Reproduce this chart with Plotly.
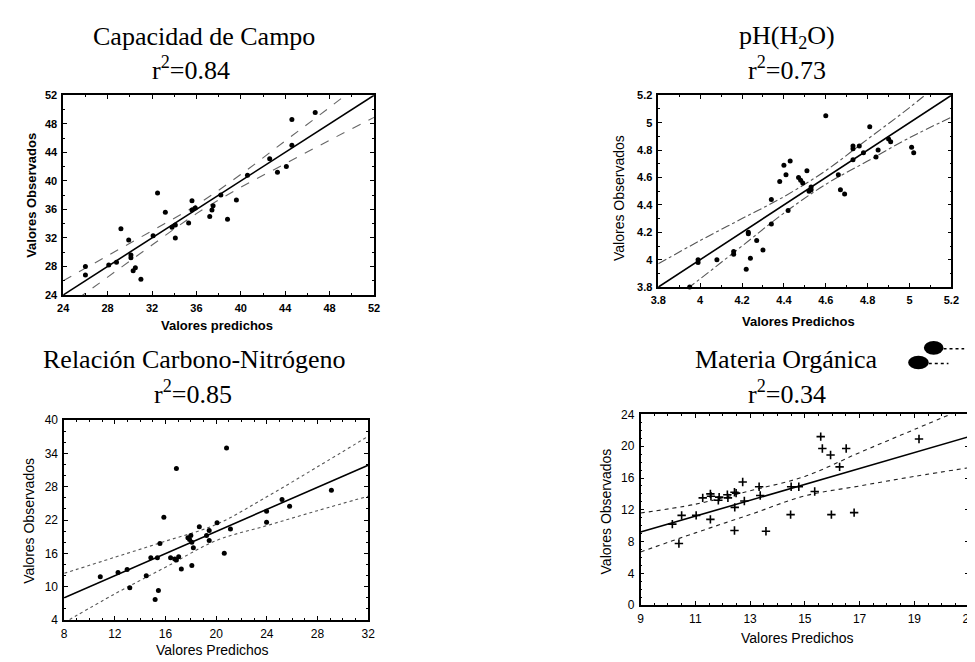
import plotly.graph_objects as go

W, H = 975, 662

# ---------------- data ----------------
# Panel 1: Capacidad de Campo
cc_x = [26.0, 26.0, 28.1, 28.8, 29.2, 29.9, 30.1, 30.1, 30.3, 30.5, 31.0, 32.1, 32.5, 33.2,
        33.8, 34.1, 34.1, 35.3, 35.6, 35.6, 35.9, 37.2, 37.4, 37.5, 38.2, 38.8, 39.6, 40.6,
        42.6, 43.3, 44.1, 44.6, 44.6, 46.7]
cc_y = [28.0, 26.8, 28.2, 28.6, 33.3, 31.7, 29.6, 29.2, 27.4, 27.8, 26.2, 32.3, 38.3, 35.6,
        33.5, 33.8, 32.0, 34.1, 35.9, 37.2, 36.2, 35.0, 35.9, 36.5, 38.0, 34.6, 37.3, 40.8,
        43.1, 41.2, 42.0, 45.0, 48.6, 49.6]
cc_fit_x = [24, 52]
cc_fit_y = [24, 52]
cc_band_x = [24, 28, 32, 36, 40, 44, 48, 52]
cc_upper = [26.0, 29.5, 33.0, 36.6, 40.9, 45.6, 50.3, 55.1]
cc_lower = [22.0, 26.5, 31.0, 35.4, 39.1, 42.4, 45.7, 48.9]
cc_ticks = [24, 28, 32, 36, 40, 44, 48, 52]

# Panel 2: pH(H2O)
ph_x = [3.99, 3.99, 4.08, 4.16, 4.16, 4.22, 4.23, 4.23, 4.24, 4.27, 4.30, 4.34, 4.34, 4.38,
        4.40, 4.41, 4.42, 4.43, 4.47, 4.48, 4.51, 4.49, 4.52, 4.53, 4.53, 4.60, 4.66, 4.67,
        4.69, 4.73, 4.73, 4.73, 4.76, 4.78, 4.81, 4.84, 4.85, 4.90, 4.91, 5.01, 5.02, 3.95]
ph_y = [4.00, 3.98, 4.00, 4.06, 4.04, 3.93, 4.20, 4.19, 4.01, 4.14, 4.07, 4.26, 4.44, 4.57,
        4.69, 4.62, 4.36, 4.72, 4.60, 4.58, 4.65, 4.56, 4.50, 4.51, 4.53, 5.05, 4.62, 4.51,
        4.48, 4.73, 4.81, 4.83, 4.83, 4.78, 4.97, 4.75, 4.80, 4.88, 4.86, 4.82, 4.78, 3.80]
ph_fit_x = [3.8, 5.2]
ph_fit_y = [3.8, 5.2]
ph_band_x = [3.8, 4.0, 4.2, 4.4, 4.6, 4.8, 5.0, 5.2]
ph_upper = [3.97, 4.14, 4.30, 4.46, 4.65, 4.88, 5.11, 5.36]
ph_lower = [3.63, 3.86, 4.10, 4.34, 4.55, 4.72, 4.89, 5.04]
ph_ticks = [3.8, 4.0, 4.2, 4.4, 4.6, 4.8, 5.0, 5.2]
ph_ticktext = ["3.8", "4", "4.2", "4.4", "4.6", "4.8", "5", "5.2"]

# Panel 3: Relación Carbono-Nitrógeno
cn_x = [10.85, 12.25, 12.97, 13.18, 14.48, 14.84, 15.18, 15.36, 15.44, 15.56, 15.87, 16.4,
        16.73, 16.86, 17.04, 16.86, 17.25, 17.77, 17.9, 18.0, 18.08, 18.08, 18.2, 18.67,
        19.24, 19.45, 19.45, 20.07, 20.64, 20.82, 21.13, 23.98, 23.98, 25.2, 25.8, 29.1]
cn_y = [11.8, 12.55, 13.1, 9.8, 11.96, 15.2, 7.7, 15.2, 9.3, 17.8, 22.5, 15.2,
        14.97, 14.8, 15.4, 31.3, 13.2, 18.8, 18.5, 19.2, 18.0, 13.8, 17.0, 20.8,
        19.2, 20.1, 18.3, 21.5, 16.0, 35.0, 20.4, 23.6, 21.6, 25.7, 24.5, 27.4]
cn_fit_x = [8, 32]
cn_fit_y = [8.0, 31.9]
cn_band_x = [8, 12, 16, 20, 24, 28, 32]
cn_upper = [12.4, 15.3, 18.2, 21.2, 26.2, 31.6, 37.1]
cn_lower = [3.5, 8.7, 13.5, 18.3, 21.0, 23.7, 26.3]
cn_xticks = [8, 12, 16, 20, 24, 28, 32]
cn_yticks = [4, 10, 16, 22, 28, 34, 40]

# Panel 4: Materia Orgánica
mo_x = [10.16, 10.4, 10.5, 11.03, 11.27, 11.55, 11.57, 11.55, 11.84, 11.87, 12.17, 12.19,
        12.43, 12.49, 12.44, 12.43, 12.73, 12.79, 13.33, 13.37, 13.58, 14.48, 14.5, 14.78,
        15.36, 15.58, 15.64, 15.94, 15.97, 16.27, 16.51, 16.8, 19.17]
mo_y = [10.2, 7.77, 11.3, 11.3, 13.5, 14.0, 13.7, 10.8, 13.2, 13.6, 13.9, 13.5,
        14.2, 14.1, 12.3, 9.4, 15.5, 13.1, 14.9, 13.8, 9.3, 11.4, 14.9, 14.9,
        14.3, 21.2, 19.7, 18.9, 11.4, 17.4, 19.7, 11.65, 20.9]
mo_fit_x = [9, 21]
mo_fit_y = [9.2, 21.2]
mo_band_x = [9, 11, 13, 15, 17, 19, 21]
mo_upper = [11.6, 12.7, 14.4, 16.2, 19.2, 22.1, 25.0]
mo_lower = [6.7, 9.1, 11.4, 13.75, 15.0, 16.2, 17.3]
mo_xticks = [9, 11, 13, 15, 17, 19, 21]
mo_yticks = [0, 4, 8, 12, 16, 20, 24]

titles = ["Capacidad de Campo", "pH(H<sub>2</sub>O)", "Relación Carbono-Nitrógeno", "Materia Orgánica"]
r2_text = ["r<sup>2</sup>=0.84", "r<sup>2</sup>=0.73", "r<sup>2</sup>=0.85", "r<sup>2</sup>=0.34"]
x_titles = ["Valores predichos", "Valores Predichos", "Valores Predichos", "Valores Predichos"]
y_title = "Valores Observados"

# ---------------- layout geometry (pixels) ----------------
boxes = [(48, 364, 82, 286), (653, 951, 82, 278), (49, 358, 414, 618), (635, 969, 408, 603)]


def px(x):
    return x / W


def py(y):
    return 1 - y / H


fig = go.Figure()

panels = [
    dict(x=cc_x, y=cc_y, fx=cc_fit_x, fy=cc_fit_y, bx=cc_band_x, bu=cc_upper, bl=cc_lower,
         xr=[24, 52], yr=[24, 52], xt=cc_ticks, xtt=[str(v) for v in cc_ticks],
         yt=cc_ticks, ytt=[str(v) for v in cc_ticks], sym="circle", msize=5,
         dash="dash", bcolor="#666666", bold=True),
    dict(x=ph_x, y=ph_y, fx=ph_fit_x, fy=ph_fit_y, bx=ph_band_x, bu=ph_upper, bl=ph_lower,
         xr=[3.8, 5.2], yr=[3.8, 5.2], xt=ph_ticks, xtt=ph_ticktext,
         yt=ph_ticks, ytt=ph_ticktext, sym="circle", msize=5,
         dash="dashdot", bcolor="#555555", bold=True),
    dict(x=cn_x, y=cn_y, fx=cn_fit_x, fy=cn_fit_y, bx=cn_band_x, bu=cn_upper, bl=cn_lower,
         xr=[8, 32], yr=[4, 40], xt=cn_xticks, xtt=[str(v) for v in cn_xticks],
         yt=cn_yticks, ytt=[str(v) for v in cn_yticks], sym="circle", msize=5,
         dash="dot", bcolor="#555555", bold=False),
    dict(x=mo_x, y=mo_y, fx=mo_fit_x, fy=mo_fit_y, bx=mo_band_x, bu=mo_upper, bl=mo_lower,
         xr=[9, 21], yr=[0, 24], xt=mo_xticks, xtt=[str(v) for v in mo_xticks],
         yt=mo_yticks, ytt=[str(v) for v in mo_yticks], sym="cross-thin", msize=6,
         dash="4px,4px", bcolor="#222222", bold=False),
]

annotations = []
layout_axes = {}
for i, (p, box) in enumerate(zip(panels, boxes)):
    n = "" if i == 0 else str(i + 1)
    xa, ya = "x" + n, "y" + n
    for band in (p["bu"], p["bl"]):
        fig.add_trace(go.Scatter(x=p["bx"], y=band, xaxis=xa, yaxis=ya, mode="lines",
                                 line=dict(color=p["bcolor"], width=1.1, dash=p["dash"], shape="spline"),
                                 hoverinfo="skip"))
    fig.add_trace(go.Scatter(x=p["fx"], y=p["fy"], xaxis=xa, yaxis=ya, mode="lines",
                             line=dict(color="black", width=1.6), hoverinfo="skip"))
    fig.add_trace(go.Scatter(x=p["x"], y=p["y"], xaxis=xa, yaxis=ya, mode="markers",
                             marker=dict(symbol=p["sym"], size=p["msize"], color="black",
                                         line=dict(width=1.6 if p["sym"] == "cross-thin" else 0,
                                                   color="black")),
                             cliponaxis=False))
    x0, x1, y0, y1 = box
    tickfont = dict(family="Liberation Sans", size=11 if p["bold"] else 12, color="black",
                    weight="bold" if p["bold"] else "normal")
    common = dict(showline=True, linecolor="black", linewidth=1.5, mirror="ticks",
                  ticks="inside", ticklen=4, tickcolor="black", tickwidth=1,
                  showgrid=False, zeroline=False, tickfont=tickfont,
                  minor=dict(ticks="inside", ticklen=2, tickcolor="black", nticks=5),
                  ticklabelstandoff=2)
    layout_axes["xaxis" + n] = dict(common, domain=[px(x0), px(x1)], range=p["xr"],
                                    tickvals=p["xt"], ticktext=p["xtt"], anchor=ya)
    layout_axes["yaxis" + n] = dict(common, domain=[py(y1), py(y0)], range=p["yr"],
                                    tickvals=p["yt"], ticktext=p["ytt"], anchor=xa)

# titles
title_pos = [(191, 22, 178, 55), (784, 22, 784, 55), (181, 352, 180, 386), (783, 352, 784, 386)]
for t, r, (tx, ty, rx, ry) in zip(titles, r2_text, title_pos):
    annotations.append(dict(text=t, x=px(tx), y=py(ty), xref="paper", yref="paper",
                            showarrow=False, xanchor="center", yanchor="middle",
                            font=dict(family="Liberation Serif", size=26, color="black")))
    annotations.append(dict(text=r, x=px(rx), y=py(ry), xref="paper", yref="paper",
                            showarrow=False, xanchor="center", yanchor="middle",
                            font=dict(family="Liberation Serif", size=26, color="black")))

# axis titles
xt_pos = [(204, 317), (796, 313), (200, 649), (795, 636)]
yt_pos = [(15, 184), (613, 187), (13, 517), (600, 507)]
xt_bold = [True, True, False, False]
for i in range(4):
    f = dict(family="Liberation Sans", size=13 if xt_bold[i] else 14, color="black",
             weight="bold" if xt_bold[i] else "normal")
    annotations.append(dict(text=x_titles[i], x=px(xt_pos[i][0]), y=py(xt_pos[i][1]),
                            xref="paper", yref="paper", showarrow=False,
                            xanchor="center", yanchor="middle", font=f))
    fy = dict(family="Liberation Sans", size=13 if i == 0 else 14, color="black",
              weight="bold" if i == 0 else "normal")
    annotations.append(dict(text=y_title, x=px(yt_pos[i][0]), y=py(yt_pos[i][1]),
                            xref="paper", yref="paper", showarrow=False, textangle=-90,
                            xanchor="center", yanchor="middle", font=fy))

# scan smudge next to the last title
shapes = [
    dict(type="circle", xref="paper", yref="paper", x0=px(923), x1=px(943), y0=py(347), y1=py(333),
         fillcolor="black", line=dict(color="black", width=0)),
    dict(type="circle", xref="paper", yref="paper", x0=px(907), x1=px(928), y0=py(362), y1=py(348),
         fillcolor="black", line=dict(color="black", width=0)),
    dict(type="line", xref="paper", yref="paper", x0=px(943), x1=px(964), y0=py(341), y1=py(341),
         line=dict(color="black", width=1.5, dash="dot")),
    dict(type="line", xref="paper", yref="paper", x0=px(928), x1=px(948), y0=py(356), y1=py(356),
         line=dict(color="black", width=1.5, dash="dot")),
]

fig.update_layout(width=W, height=H, margin=dict(l=0, r=0, t=0, b=0),
                  paper_bgcolor="white", plot_bgcolor="white", showlegend=False,
                  annotations=annotations, shapes=shapes, **layout_axes)

fig.write_html("out.html")
